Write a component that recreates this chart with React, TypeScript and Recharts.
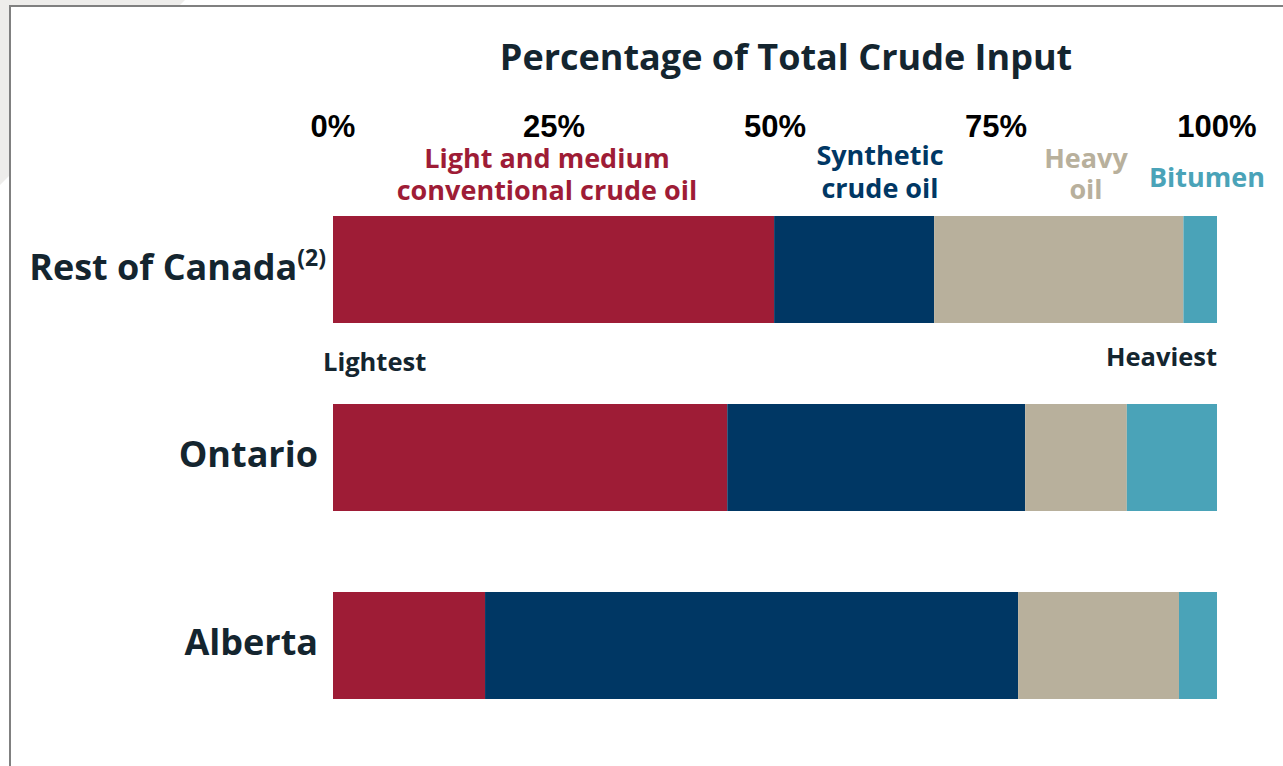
import React from 'react';
import { BarChart, Bar, XAxis, YAxis, Customized } from 'recharts';

const categories = ['Rest of Canada', 'Ontario', 'Alberta'];
const lightMedium = [49.9, 44.6, 17.2];
const synthetic = [18.1, 33.7, 60.3];
const heavy = [28.2, 11.5, 18.2];
const bitumen = [3.8, 10.2, 4.3];
const xTicks = [0, 25, 50, 75, 100];

const RED = '#9e1c36';
const NAVY = '#003764';
const TAN = '#b8b09c';
const TEAL = '#4aa3b8';
const DARK = '#14252f';
const FONT = '"Open Sans", sans-serif';

const data = categories.map((name, i) => ({
  name,
  light: lightMedium[i],
  synthetic: synthetic[i],
  heavy: heavy[i],
  bitumen: bitumen[i],
}));

const XTick = ({ x, payload }: any) => (
  <text x={x} y={137} textAnchor="middle" fill="#000" fontFamily='"Liberation Sans", Arial, sans-serif' fontWeight={700} fontSize={31}>
    {payload.value}%
  </text>
);

const YTick = ({ y, payload }: any) => {
  if (payload.value === 'Rest of Canada') {
    return (
      <text x={326} y={y + 11} textAnchor="end" fill={DARK} fontFamily={FONT} fontWeight={700} fontSize={36}>
        Rest of Canada
        <tspan fontSize={23} dy={-14}>(2)</tspan>
      </text>
    );
  }
  return (
    <text x={318} y={y + 10} textAnchor="end" fill={DARK} fontFamily={FONT} fontWeight={700} fontSize={36}>
      {payload.value}
    </text>
  );
};

const Annotations = () => (
  <g fontFamily={FONT} fontWeight={700}>
    <text x={786} y={70} textAnchor="middle" fill={DARK} fontSize={36}>Percentage of Total Crude Input</text>
    <text x={547} y={168} textAnchor="middle" fill={RED} fontSize={27}>Light and medium</text>
    <text x={547} y={200} textAnchor="middle" fill={RED} fontSize={27}>conventional crude oil</text>
    <text x={880} y={165} textAnchor="middle" fill={NAVY} fontSize={27}>Synthetic</text>
    <text x={880} y={198} textAnchor="middle" fill={NAVY} fontSize={27}>crude oil</text>
    <text x={1086} y={168} textAnchor="middle" fill={TAN} fontSize={27}>Heavy</text>
    <text x={1086} y={199} textAnchor="middle" fill={TAN} fontSize={27}>oil</text>
    <text x={1207} y={187} textAnchor="middle" fill={TEAL} fontSize={27}>Bitumen</text>
    <text x={323} y={371} textAnchor="start" fill={DARK} fontSize={25.5}>Lightest</text>
    <text x={1217} y={366} textAnchor="end" fill={DARK} fontSize={25.5}>Heaviest</text>
  </g>
);

export default function App() {
  return (
    <div style={{ position: 'fixed', left: 0, top: 0, width: 1283, height: 766, overflow: 'hidden', background: '#fff' }}>
      <div style={{ position: 'absolute', left: 0, top: 0, width: 190, height: 190, background: '#eeedeb', clipPath: 'polygon(0 0, 185px 0, 0 185px)' }} />
      <div style={{ position: 'absolute', left: 9, top: 5, width: 1400, height: 900, border: '2px solid #808080', background: '#fff' }} />
      <div style={{ position: 'absolute', left: 0, top: 0 }}>
        <BarChart width={1283} height={766} data={data} layout="vertical" margin={{ top: 0, right: 66, bottom: 27, left: 0 }} barSize={107}>
          <XAxis type="number" orientation="top" domain={[0, 100]} ticks={xTicks} height={175} axisLine={false} tickLine={false} tick={<XTick />} />
          <YAxis type="category" dataKey="name" width={333} axisLine={false} tickLine={false} tick={<YTick />} />
          <Bar dataKey="light" stackId="a" fill={RED} isAnimationActive={false} />
          <Bar dataKey="synthetic" stackId="a" fill={NAVY} isAnimationActive={false} />
          <Bar dataKey="heavy" stackId="a" fill={TAN} isAnimationActive={false} />
          <Bar dataKey="bitumen" stackId="a" fill={TEAL} isAnimationActive={false} />
          <Customized component={<Annotations />} />
        </BarChart>
      </div>
    </div>
  );
}
